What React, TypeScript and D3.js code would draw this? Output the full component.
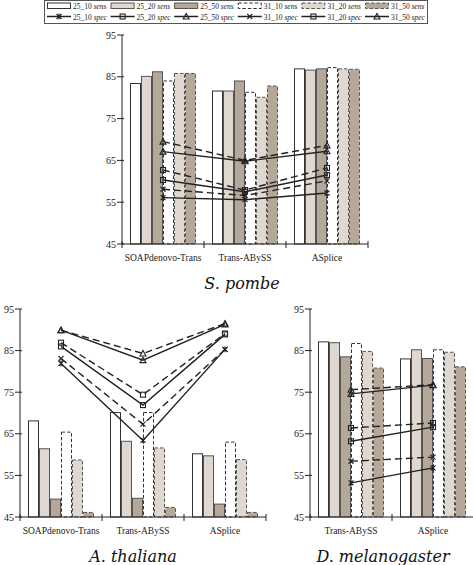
import React from "react";
import * as d3 from "d3";

const seriesNames = ["25_10", "25_20", "25_50", "31_10", "31_20", "31_50"];
const yTicks = [45, 55, 65, 75, 85, 95];

const catsPombe = ["SOAPdenovo-Trans", "Trans-ABySS", "ASplice"];
const catsThaliana = ["SOAPdenovo-Trans", "Trans-ABySS", "ASplice"];
const catsMelano = ["Trans-ABySS", "ASplice"];

// sensitivity (bars), one array per series, one value per category
const pombeSens25_10 = [83.4, 81.6, 86.9];
const pombeSens25_20 = [85.1, 81.6, 86.6];
const pombeSens25_50 = [86.2, 84.0, 86.9];
const pombeSens31_10 = [84.0, 81.3, 87.2];
const pombeSens31_20 = [85.8, 80.1, 86.9];
const pombeSens31_50 = [85.8, 82.8, 86.8];
// specificity (lines)
const pombeSpec25_10 = [56.1, 55.6, 57.2];
const pombeSpec25_20 = [60.3, 57.5, 61.5];
const pombeSpec25_50 = [67.1, 64.8, 67.2];
const pombeSpec31_10 = [58.1, 56.6, 60.1];
const pombeSpec31_20 = [62.7, 57.9, 63.2];
const pombeSpec31_50 = [69.5, 65.0, 68.6];

const thalSens25_10 = [68.1, 70.1, 60.2];
const thalSens25_20 = [61.4, 63.2, 59.7];
const thalSens25_50 = [49.3, 49.5, 48.1];
const thalSens31_10 = [65.4, 70.1, 63.0];
const thalSens31_20 = [58.7, 61.6, 58.8];
const thalSens31_50 = [46.1, 47.3, 46.1];
const thalSpec25_10 = [81.9, 63.4, 85.3];
const thalSpec25_20 = [86.0, 71.9, 88.9];
const thalSpec25_50 = [89.9, 82.7, 91.3];
const thalSpec31_10 = [83.1, 67.3, 85.3];
const thalSpec31_20 = [86.9, 74.4, 89.1];
const thalSpec31_50 = [89.9, 84.3, 91.5];

const melSens25_10 = [87.1, 83.0];
const melSens25_20 = [86.9, 85.2];
const melSens25_50 = [83.5, 83.1];
const melSens31_10 = [86.7, 85.2];
const melSens31_20 = [84.8, 84.6];
const melSens31_50 = [80.8, 81.1];
const melSpec25_10 = [53.2, 56.8];
const melSpec25_20 = [63.2, 66.6];
const melSpec25_50 = [74.6, 76.7];
const melSpec31_10 = [58.4, 59.4];
const melSpec31_20 = [66.4, 67.6];
const melSpec31_50 = [75.6, 76.8];

const barFill = ["#ffffff", "#e0d8cf", "#b6a899", "#ffffff", "#e0d8cf", "#b6a899"];
const barStroke = ["#333", "#555", "#555", "#333", "#555", "#555"];
const markers = ["star", "square", "triangle", "x", "square", "triangle"];

const SERIF = "'Liberation Serif', 'Times New Roman', serif";

function Marker({ type, x, y }: { type: string; x: number; y: number }) {
  const s = 2.5;
  const st = { stroke: "#222", strokeWidth: 1.1, fill: "none" } as any;
  if (type === "square") return <rect x={x - s} y={y - s} width={2 * s} height={2 * s} {...st} />;
  if (type === "triangle")
    return <path d={`M${x},${y - s - 0.5}L${x + s + 0.5},${y + s}L${x - s - 0.5},${y + s}Z`} {...st} />;
  if (type === "x")
    return <path d={`M${x - s},${y - s}L${x + s},${y + s}M${x - s},${y + s}L${x + s},${y - s}`} {...st} />;
  return (
    <path
      d={`M${x - s},${y - s}L${x + s},${y + s}M${x - s},${y + s}L${x + s},${y - s}M${x},${y - s - 0.5}L${x},${y + s + 0.5}`}
      {...st}
    />
  );
}

function Panel({
  cats,
  sens,
  spec,
  x0,
  x1,
  yTop,
  yBot,
  title,
  titleX,
}: {
  cats: string[];
  sens: number[][];
  spec: number[][];
  x0: number;
  x1: number;
  yTop: number;
  yBot: number;
  title: string;
  titleX: number;
}) {
  const x = d3.scaleBand<string>().domain(cats).range([x0, x1]).paddingInner(0).paddingOuter(0);
  const bw = x.bandwidth();
  const groupW = 66;
  const inner = d3
    .scaleBand<string>()
    .domain(seriesNames)
    .range([(bw - groupW) / 2, (bw + groupW) / 2]);
  const y = d3.scaleLinear().domain([45, 95]).range([yBot, yTop]);
  const center = (c: string) => (x(c) as number) + bw / 2;
  const line = d3
    .line<[number, number]>()
    .x((d) => d[0])
    .y((d) => d[1]);
  const boundaries = [...cats.map((c) => x(c) as number), x1];
  return (
    <g>
      {seriesNames.map((s, si) =>
        cats.map((c, ci) => {
          const bx = (x(c) as number) + (inner(s) as number);
          const v = sens[si][ci];
          return (
            <rect
              key={s + c}
              x={bx + 0.5}
              y={y(v)}
              width={inner.bandwidth() - 1}
              height={y(45) - y(v)}
              fill={barFill[si]}
              stroke={barStroke[si]}
              strokeWidth={1}
              strokeDasharray={si >= 3 ? "3.5,2" : undefined}
            />
          );
        })
      )}
      <line x1={x0} x2={x0} y1={y(95)} y2={y(45)} stroke="#222" strokeWidth={1} />
      <line x1={x0} x2={x1} y1={y(45)} y2={y(45)} stroke="#222" strokeWidth={1} />
      {yTicks.map((t) => (
        <g key={t}>
          <line x1={x0 - 5} x2={x0 + 2} y1={y(t)} y2={y(t)} stroke="#222" />
          <text x={x0 - 6} y={y(t) + 3.5} textAnchor="end" fontSize={10} fontFamily={SERIF} fill="#222">
            {t}
          </text>
        </g>
      ))}
      {boundaries.map((b, i) => (
        <line key={i} x1={b} x2={b} y1={y(45) - 3} y2={y(45) + 4} stroke="#222" />
      ))}
      {cats.map((c) => (
        <text
          key={c}
          x={center(c)}
          y={y(45) + 17}
          textAnchor="middle"
          fontSize={9.5}
          fontFamily={SERIF}
          fill="#222"
        >
          {c}
        </text>
      ))}
      {seriesNames.map((s, si) => {
        const pts = cats.map((c, ci) => [center(c), y(spec[si][ci])] as [number, number]);
        return (
          <g key={s}>
            <path
              d={line(pts) as string}
              fill="none"
              stroke="#222"
              strokeWidth={1.4}
              strokeDasharray={si >= 3 ? "7,4" : undefined}
            />
            {pts.map((p, i) => (
              <Marker key={i} type={markers[si]} x={p[0]} y={p[1]} />
            ))}
          </g>
        );
      })}
      <text
        x={titleX}
        y={y(45) + 45}
        textAnchor="middle"
        fontSize={16}
        fontStyle="italic"
        fontFamily="'DejaVu Serif', serif"
        fill="#111"
      >
        {title}
      </text>
    </g>
  );
}

function Legend() {
  const lx = 47;
  const step = 63.6;
  return (
    <g>
      <rect x={44.5} y={0.5} width={383} height={23} fill="#fff" stroke="#555" strokeWidth={1} />
      {seriesNames.map((s, i) => (
        <g key={"s" + s}>
          <rect
            x={lx + i * step + 0.5}
            y={3}
            width={23}
            height={5.5}
            fill={barFill[i]}
            stroke={barStroke[i]}
            strokeDasharray={i >= 3 ? "3.5,2" : undefined}
          />
          <text x={lx + i * step + 26} y={9} fontSize={7.5} fontFamily={SERIF} fill="#222">
            {s} <tspan fontStyle="italic">sens</tspan>
          </text>
        </g>
      ))}
      {seriesNames.map((s, i) => (
        <g key={"p" + s}>
          <line
            x1={lx + i * step}
            x2={lx + i * step + 24}
            y1={16.5}
            y2={16.5}
            stroke="#222"
            strokeWidth={1.5}
          />
          <Marker type={markers[i]} x={lx + i * step + 12} y={16.5} />
          <text x={lx + i * step + 26} y={19.5} fontSize={7.5} fontFamily={SERIF} fill="#222">
            {s} <tspan fontStyle="italic">spec</tspan>
          </text>
        </g>
      ))}
    </g>
  );
}

export default function App() {
  const pombeSens = [pombeSens25_10, pombeSens25_20, pombeSens25_50, pombeSens31_10, pombeSens31_20, pombeSens31_50];
  const pombeSpec = [pombeSpec25_10, pombeSpec25_20, pombeSpec25_50, pombeSpec31_10, pombeSpec31_20, pombeSpec31_50];
  const thalSens = [thalSens25_10, thalSens25_20, thalSens25_50, thalSens31_10, thalSens31_20, thalSens31_50];
  const thalSpec = [thalSpec25_10, thalSpec25_20, thalSpec25_50, thalSpec31_10, thalSpec31_20, thalSpec31_50];
  const melSens = [melSens25_10, melSens25_20, melSens25_50, melSens31_10, melSens31_20, melSens31_50];
  const melSpec = [melSpec25_10, melSpec25_20, melSpec25_50, melSpec31_10, melSpec31_20, melSpec31_50];
  return (
    <svg
      width={473}
      height={565}
      style={{ position: "absolute", left: 0, top: 0, background: "#fff" }}
    >
      <rect width={473} height={565} fill="#fff" />
      <Legend />
      <Panel cats={catsPombe} sens={pombeSens} spec={pombeSpec} x0={122} x1={368} yTop={35} yBot={244} title="S. pombe" titleX={242} />
      <Panel cats={catsThaliana} sens={thalSens} spec={thalSpec} x0={20} x1={266} yTop={309} yBot={517} title="A. thaliana" titleX={133} />
      <Panel cats={catsMelano} sens={melSens} spec={melSpec} x0={310} x1={474} yTop={309} yBot={517} title="D. melanogaster" titleX={383} />
    </svg>
  );
}
